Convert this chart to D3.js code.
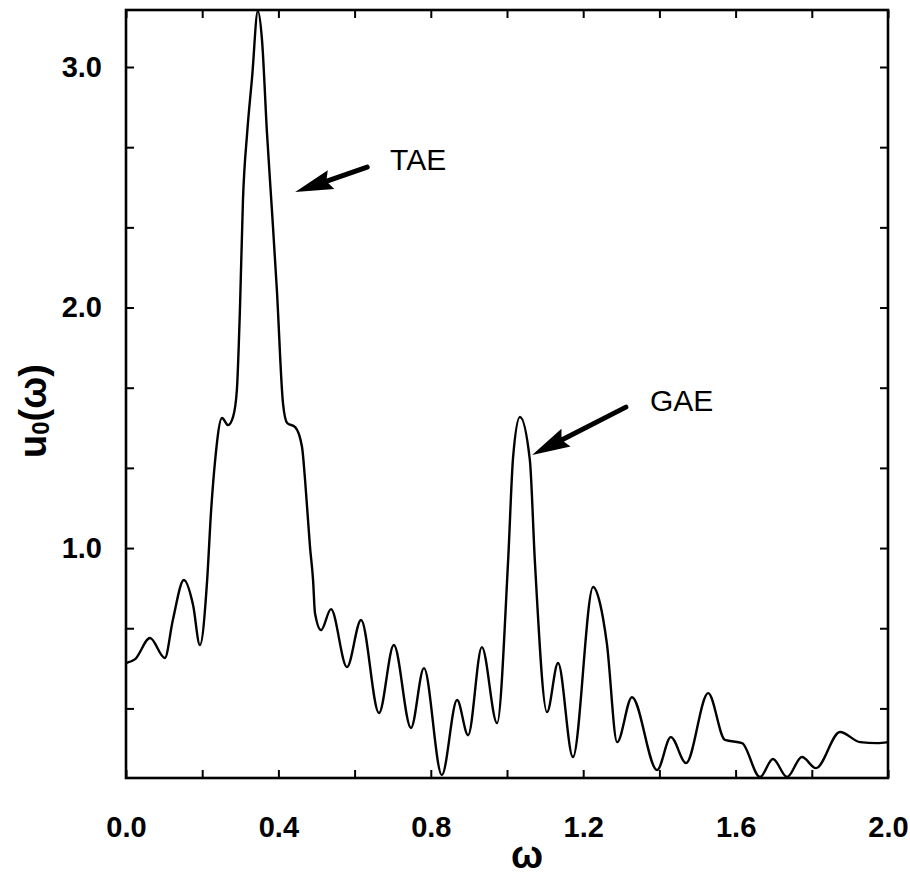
<!DOCTYPE html>
<html>
<head>
<meta charset="utf-8">
<script src="https://cdn.jsdelivr.net/npm/d3@7"></script>
<style>
  html, body { margin: 0; padding: 0; background: #fff; }
  svg { display: block; }
  text { font-family: "Liberation Sans", Arial, Helvetica, sans-serif; fill: #000; }
</style>
</head>
<body>
<svg id="chart" width="910" height="879"></svg>
<script>
// ---- data ----
const omega = [0.000,0.024,0.063,0.102,0.123,0.152,0.176,0.194,0.213,0.223,0.234,0.252,0.268,0.281,0.291,0.299,0.307,0.318,0.331,0.346,0.357,0.370,0.383,0.396,0.412,0.423,0.444,0.462,0.470,0.483,0.491,0.496,0.512,0.538,0.580,0.617,0.664,0.703,0.748,0.782,0.829,0.869,0.898,0.934,0.974,1.003,1.016,1.034,1.060,1.073,1.105,1.134,1.173,1.226,1.244,1.262,1.289,1.328,1.394,1.430,1.470,1.528,1.572,1.617,1.664,1.698,1.735,1.774,1.811,1.874,1.927,1.971,2.000];
const u0 = [0.522,0.538,0.626,0.543,0.701,0.867,0.763,0.597,0.867,1.146,1.366,1.541,1.511,1.545,1.657,1.990,2.447,2.726,2.958,3.233,3.112,2.726,2.405,2.073,1.603,1.520,1.503,1.420,1.283,1.004,0.867,0.730,0.659,0.746,0.505,0.701,0.314,0.597,0.252,0.501,0.056,0.368,0.222,0.588,0.272,0.950,1.378,1.545,1.366,0.950,0.318,0.522,0.131,0.838,0.771,0.605,0.193,0.380,0.077,0.214,0.106,0.397,0.202,0.189,0.048,0.123,0.048,0.131,0.085,0.235,0.193,0.189,0.193];

const xTicks = [0,0.2,0.4,0.6,0.8,1.0,1.2,1.4,1.6,1.8,2.0];
const xTickLabels = ["0.0","","0.4","","0.8","","1.2","","1.6","","2.0"];
const yTicks = [1/3,2/3,1,4/3,5/3,2,7/3,8/3,3];
const yTickLabels = ["","","1.0","","","2.0","","","3.0"];

const annLabels = ["TAE","GAE"];
const annTextPos = [[0.693,2.572],[1.375,1.570]];
const annTail = [[0.633,2.584],[1.312,1.586]];
const annTip = [[0.444,2.480],[1.066,1.387]];

// ---- layout ----
const L = 126, R = 888, T = 10, B = 778;
const svg = d3.select("#chart");
const x = d3.scaleLinear().domain([0, 2]).range([L, R]);
const y = d3.scaleLinear().domain([0.044, 3.237]).range([B, T]);

svg.append("clipPath").attr("id","clip").append("rect")
  .attr("x", L).attr("y", T - 2).attr("width", R - L).attr("height", B - T + 2);

const pts = omega.map((w,i)=>[w,u0[i]]);
const line = d3.line().x(d=>x(d[0])).y(d=>y(d[1])).curve(d3.curveMonotoneX);
svg.append("path").datum(pts)
  .attr("d", line).attr("fill","none").attr("stroke","#000")
  .attr("stroke-width",2.4).attr("stroke-linejoin","round")
  .attr("clip-path","url(#clip)");

const tickLen = 8;
const fmtX = d => xTickLabels[xTicks.indexOf(d)];
const fmtY = d => yTickLabels[yTicks.indexOf(d)];

const gB = svg.append("g").attr("transform",`translate(0,${B})`)
  .call(d3.axisBottom(x).tickValues(xTicks).tickSize(-tickLen).tickPadding(38).tickFormat(fmtX));
const gT = svg.append("g").attr("transform",`translate(0,${T})`)
  .call(d3.axisTop(x).tickValues(xTicks).tickSize(-tickLen).tickFormat(""));
const gL = svg.append("g").attr("transform",`translate(${L},0)`)
  .call(d3.axisLeft(y).tickValues(yTicks).tickSize(-tickLen).tickPadding(24).tickFormat(fmtY));
const gR = svg.append("g").attr("transform",`translate(${R},0)`)
  .call(d3.axisRight(y).tickValues(yTicks).tickSize(-tickLen).tickFormat(""));

[gB,gT,gL,gR].forEach(g=>{
  g.select(".domain").remove();
  g.selectAll(".tick line").attr("stroke","#000").attr("stroke-width",2);
  g.selectAll(".tick text").attr("font-size",29).attr("font-weight","bold")
    .style("font-family",'"Liberation Sans", Arial, sans-serif').attr("fill","#000");
});

svg.append("rect").attr("x",L).attr("y",T).attr("width",R-L).attr("height",B-T)
  .attr("fill","none").attr("stroke","#000").attr("stroke-width",2.6);

svg.append("text").attr("x",527).attr("y",868).attr("text-anchor","middle")
  .attr("font-size",38).attr("font-weight","bold").text("ω");

const yl = svg.append("text").attr("transform","translate(46,411) rotate(-90)")
  .attr("text-anchor","middle").attr("font-size",38).attr("font-weight","bold");
yl.append("tspan").text("u");
yl.append("tspan").attr("font-size",24).attr("dy",3).text("0");
yl.append("tspan").attr("dy",-3).text("(ω)");

annLabels.forEach((lab,i)=>{
  svg.append("text").attr("x",x(annTextPos[i][0])).attr("y",y(annTextPos[i][1]))
    .attr("font-size",30).text(lab);
  const x1 = x(annTail[i][0]), y1 = y(annTail[i][1]);
  const x2 = x(annTip[i][0]), y2 = y(annTip[i][1]);
  const ang = Math.atan2(y2-y1, x2-x1);
  const hl = 38, hw = 10;
  const bx = x2 - hl*Math.cos(ang), by = y2 - hl*Math.sin(ang);
  svg.append("line").attr("x1",x1).attr("y1",y1).attr("x2",bx+6*Math.cos(ang)).attr("y2",by+6*Math.sin(ang))
    .attr("stroke","#000").attr("stroke-width",5).attr("stroke-linecap","round");
  const px = -Math.sin(ang), py = Math.cos(ang);
  svg.append("path")
    .attr("d",`M${x2},${y2}L${bx+hw*px},${by+hw*py}L${bx+5*Math.cos(ang)},${by+5*Math.sin(ang)}L${bx-hw*px},${by-hw*py}Z`)
    .attr("fill","#000");
});
</script>
</body>
</html>
